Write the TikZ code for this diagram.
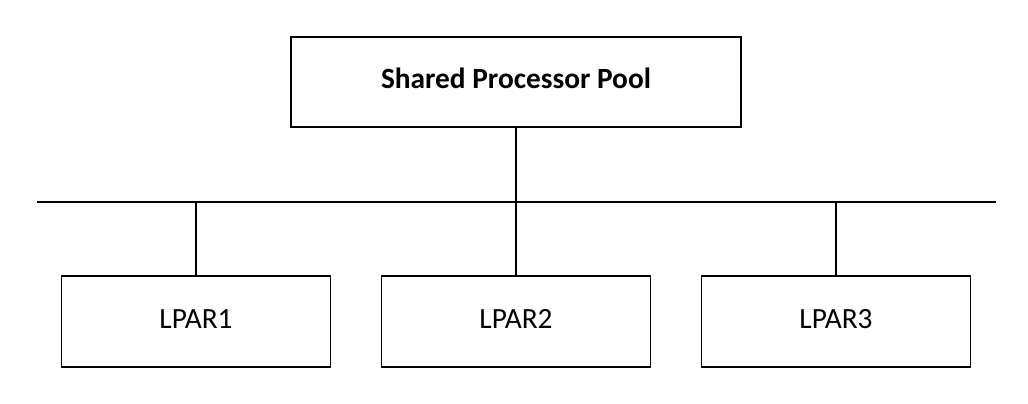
\documentclass[tikz,border=0pt]{standalone}
\usepackage{fontspec}
\setmainfont{Carlito}
\usetikzlibrary{positioning}

\begin{document}
\begin{tikzpicture}[x=0.02cm, y=-0.02cm,
        poolbox/.style={draw, thick, minimum width=9cm, minimum height=1.8cm, text height=1.9ex, text depth=0.25ex, font=\fontsize{16.7}{20}\selectfont\bfseries},
        lparbox/.style={draw, thick, minimum width=5.38cm, minimum height=1.82cm, text height=1.9ex, text depth=0.25ex, font=\fontsize{16.7}{20}\selectfont},
        bus/.style={thick},
]
        \useasboundingbox (0,0) rectangle (1028,404);
        \node[poolbox] (pool) at (516,82) {Shared Processor Pool};
        \node[lparbox] (lparone) at (196,321.5) {LPAR1};
        \node[lparbox] (lpartwo) at (516,321.5) {LPAR2};
        \node[lparbox] (lparthree) at (836,321.5) {LPAR3};

        \coordinate (busleft) at (37,202);
        \coordinate (busright) at (996,202);
        \coordinate (busone) at (196,202);
        \coordinate (bustwo) at (516,202);
        \coordinate (busthree) at (836,202);

        \draw[bus] (busleft) -- (busright);
        \draw[bus] (pool.south) -- (bustwo);
        \draw[bus] (busone) -- (lparone.north);
        \draw[bus] (bustwo) -- (lpartwo.north);
        \draw[bus] (busthree) -- (lparthree.north);
    \end{tikzpicture}
\end{document}
